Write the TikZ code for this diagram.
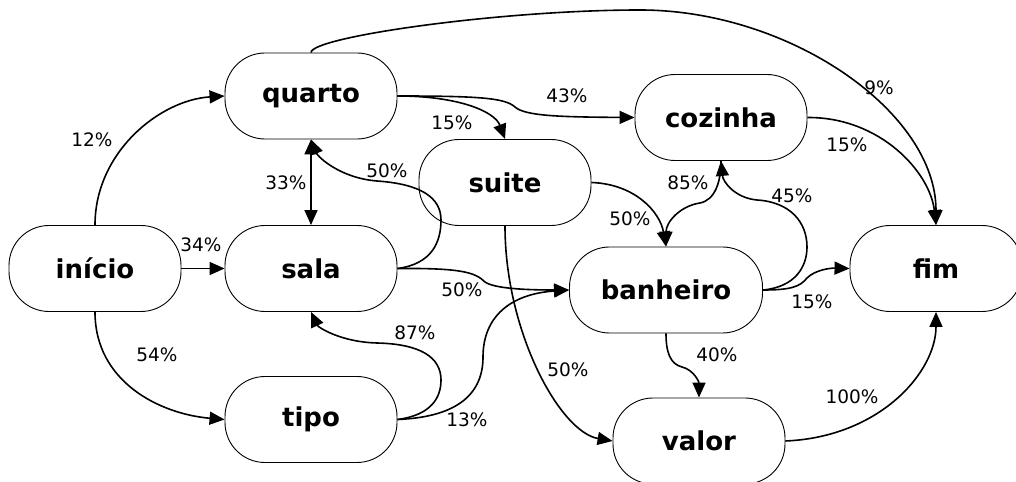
\documentclass[tikz,border=0pt]{standalone}
\usepackage{fontspec}
\setmainfont{DejaVu Sans}
\usetikzlibrary{arrows.meta}
\begin{document}
\begin{tikzpicture}[>={Triangle[length=15bp,width=13bp]},
  room/.style={draw,rectangle,rounded corners=40bp,line width=0.9bp,minimum width=172bp,minimum height=86bp,inner sep=0pt,font=\fontsize{26bp}{30bp}\selectfont\bfseries},
  pct/.style={inner sep=0pt,font=\fontsize{18.5bp}{22bp}\selectfont},
  every path/.append style={line width=1.6bp}]
  \useasboundingbox (0bp,0bp) rectangle (1016bp,482bp);
		\node (inicio) at (95bp,213.5bp) [room] {início};
  \node (quarto) at (311bp,386bp) [room] {quarto};
  \node (sala) at (311bp,213.5bp) [room] {sala};
  \node (tipo) at (311bp,62.5bp) [room] {tipo};
  \node (suite) at (505bp,299.5bp) [room] {suite};
  \node (cozinha) at (721bp,364.5bp) [room] {cozinha};
  \node (banheiro) at (666bp,192bp) [room,minimum width=193bp] {banheiro};
  \node (fim) at (936bp,213.5bp) [room] {fim};
  \node (valor) at (699bp,41bp) [room] {valor};
  \draw [->] (inicio.north) ..controls (95bp,330bp) and (160bp,382bp)  .. (quarto.west);
  \node (p12) at (92bp,342bp) [pct] {12\%};
  \draw [->] (inicio.east) -- (sala.west);
  \node (p34) at (201bp,237bp) [pct] {34\%};
  \draw [->] (inicio.south) ..controls (95bp,100bp) and (160bp,68bp)  .. (tipo.west);
  \node (p54) at (157bp,127bp) [pct] {54\%};
  \draw [<->] (quarto.south) -- (sala.north);
  \node (p33) at (286bp,299bp) [pct] {33\%};
  \draw [->] (quarto.east) ..controls (460bp,386bp) and (495bp,370bp)  .. (suite.north);
  \node (p15a) at (452bp,359bp) [pct] {15\%};
  \draw [->] (quarto.east) ..controls (480bp,386bp) and (505bp,384bp)  .. (515bp,375bp) .. controls (525bp,366bp) and (560bp,365bp)  .. (cozinha.west);
  \node (p43) at (567bp,386bp) [pct] {43\%};
  \draw [->] (quarto.north) ..controls (311bp,445bp) and (500bp,472bp)  .. (640bp,472bp) .. controls (790bp,472bp) and (936bp,370bp)  .. (fim.north);
  \node (p9) at (879bp,394bp) [pct] {9\%};
  \draw [->] (sala.east) ..controls (432bp,218bp) and (441bp,240bp)  .. (441bp,262bp) .. controls (441bp,285bp) and (420bp,298bp)  .. (377bp,301bp) .. controls (340bp,304bp) and (318bp,325bp)  .. (quarto.south);
  \node (p50a) at (387bp,311bp) [pct] {50\%};
  \draw [->] (sala.east) ..controls (460bp,214bp) and (475bp,210bp)  .. (485bp,200bp) .. controls (495bp,193bp) and (530bp,192bp)  .. (banheiro.west);
  \node (p50b) at (462bp,192bp) [pct] {50\%};
  \draw [->] (tipo.east) ..controls (432bp,67bp) and (441bp,85bp)  .. (441bp,102bp) .. controls (441bp,125bp) and (420bp,138bp)  .. (377bp,139bp) .. controls (340bp,140bp) and (318bp,155bp)  .. (sala.south);
  \node (p87) at (415bp,149bp) [pct] {87\%};
  \draw [->] (tipo.east) ..controls (460bp,65bp) and (483bp,90bp)  .. (483bp,125bp) .. controls (483bp,165bp) and (510bp,188bp)  .. (banheiro.west);
  \node (p13) at (467bp,62bp) [pct] {13\%};
  \draw [->] (suite.east) ..controls (635bp,298bp) and (660bp,270bp)  .. (banheiro.north);
  \node (p50c) at (630bp,263bp) [pct] {50\%};
  \draw [->] (suite.south) ..controls (505bp,150bp) and (560bp,50bp)  .. (valor.west);
  \node (p50d) at (568bp,112bp) [pct] {50\%};
  \draw [->] (cozinha.south) ..controls (721bp,300bp) and (715bp,282bp)  .. (700bp,279bp) .. controls (680bp,276bp) and (666bp,260bp)  .. (banheiro.north);
  \node (p85) at (688bp,299bp) [pct] {85\%};
  \draw [->] (banheiro.east) ..controls (795bp,195bp) and (807bp,215bp)  .. (807bp,235bp) .. controls (807bp,260bp) and (790bp,280bp)  .. (757bp,282bp) .. controls (735bp,284bp) and (723bp,300bp)  .. (cozinha.south);
  \node (p45) at (792bp,286bp) [pct] {45\%};
  \draw [->] (banheiro.east) ..controls (790bp,192bp) and (800bp,195bp)  .. (807bp,204bp) .. controls (815bp,212bp) and (830bp,214bp)  .. (fim.west);
  \node (p15b) at (812bp,180bp) [pct] {15\%};
  \draw [->] (banheiro.south) ..controls (666bp,130bp) and (670bp,118bp)  .. (682bp,115bp) .. controls (694bp,112bp) and (699bp,100bp)  .. (valor.north);
  \node (p40) at (717bp,127bp) [pct] {40\%};
  \draw [->] (valor.east) ..controls (880bp,45bp) and (936bp,110bp)  .. (fim.south);
  \node (p100) at (852bp,85bp) [pct] {100\%};
  \draw [->] (cozinha.east) ..controls (880bp,365bp) and (930bp,310bp)  .. (fim.north);
  \node (p15c) at (847bp,337bp) [pct] {15\%};
	\end{tikzpicture}
\end{document}
